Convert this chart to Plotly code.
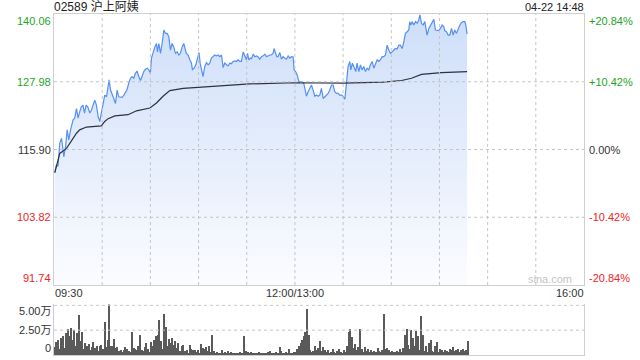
import plotly.graph_objects as go

# ---------------- data ----------------
title_text = "02589 沪上阿姨"
date_text = "04-22 14:48"

# minutes since 09:30 (trading minutes, lunch break removed: 150 = 12:00/13:00, 330 = 16:00)
price_minutes = [0.5, 1.5, 2.5, 3.6, 4.7, 5.3, 6.1, 7.2, 8.2, 9.2, 10.3, 11.9, 12.9, 14, 15, 16, 17, 18, 19, 20,
                 21, 22.3, 23.3, 24.3, 25.4, 26.4, 27.5, 28.5, 29.5, 30.6, 31.6, 32.7, 33.7, 34.3, 35.2, 36.2, 37.2,
                 38.3, 39.3, 40.3, 41.4, 42.4, 43.5, 44.5, 45.5, 46.6, 47.6, 48.6, 49.7, 50.7, 51.7, 52.8, 53.8,
                 54.8, 55.9, 56.9, 58, 59, 60, 60.7, 61.7, 62.8, 63.8, 64.4, 65.3, 66.3, 67.3, 68.4, 69.4, 70.4,
                 71.5, 72.5, 73.5, 74.6, 75.6, 76.7, 77.7, 78.7, 79.8, 80.8,
                 82.4, 83.5, 84.6, 85.6, 86.2, 87.2, 88.3, 89.3, 90.3, 91, 91.8, 92.8, 93.9, 94.9, 96, 97, 98, 99.1,
                 100.1, 101.2, 102.2, 103.2, 104.3, 105.3, 106.3, 107.4, 108.4, 109.4, 110.5, 111.5, 112.6, 113.6,
                 114.6, 115.7, 116.7, 117.8, 118.8, 119.8, 120.5, 121.3, 122.3, 123, 124, 125, 126.1, 127.1, 128.1,
                 129.2, 130.2, 131.3, 132.3, 133.3, 134.4, 135.4, 136.4, 137, 137.9, 138.7, 139.5, 140.6, 141.6,
                 142.6, 143.7, 144.7, 145.8, 146.8, 147.9, 148.9, 149.5, 150.4, 151.4, 152.5, 153.5, 154.6, 155.6,
                 156.6, 157.2, 158.2, 159.3, 160.3, 161.3, 162.4, 163.4, 164.4, 165.5, 166.5, 167.6,
                 168.6, 169.7, 170.7, 171.7, 172.8, 173.8, 174.8, 175.9, 176.9, 177.9, 179, 180, 181.1, 181.7,
                 182.3, 183.1, 184.2, 184.8, 185.8, 186.9, 187.9, 188.7, 189.8, 190.8, 191.8, 192.9, 193.9, 195,
                 196, 197, 198.1, 199.1, 200.1, 201.2, 202.2, 203.3, 204.3, 205.3, 206.4, 207.4, 208.5, 209.5,
                 210.5, 211.6, 212.6, 213.6, 214.7, 215.7, 216.8, 217.8, 218.8, 219.9, 220.9, 221.5, 222.1, 223,
                 224, 225.1, 226.1, 227.1, 227.8, 228.8, 229.8, 230.9, 231.5, 232.3, 233.4, 234.4, 235.4, 236.5,
                 237.5, 238.5, 239.6, 240.6, 241.6, 242.7, 243.3, 244.4, 245.4, 246.4, 247.5, 248.5, 249.5, 250.6,
                 251.6, 252.7, 253.7, 254.7, 255.8, 256.4, 257.2]
prices = [111.76, 113.14, 112.9, 117.0, 117.9, 115.8, 114.6, 116.4, 119.4, 117.6, 119.4, 121.2, 121.5, 123.2, 121.5,
          122.6, 123.5, 123.8, 122.4, 123.8, 123.5, 122.4, 122.9, 123.8, 124.7, 123.8, 121.75, 120.9, 122.4, 124.1,
          125.6, 125.3, 126.8, 128.3, 126.5, 125.9, 125.0, 124.1, 126.5, 125.3, 125.2, 125.2, 125.6, 126.0, 126.6,
          127.8, 128.6, 128.9, 128.6, 129.5, 129.9, 128.9, 128.2, 128.9, 129.8, 130.2, 130.4, 130.1, 129.5, 132.2,
          133.3, 134.2, 134.8, 133.3, 134.8, 133.05, 134.8, 137.2, 136.6, 136.6, 136.0, 133.6, 134.8, 134.2, 133.05,
          133.3, 132.75, 133.05, 134.2, 134.8,
          133.05, 132.75, 131.9, 131.3, 130.1, 130.4, 131.0, 131.9, 133.2, 131.3, 130.4, 128.9, 130.7, 131.4, 131.0,
          131.3, 132.2, 132.6, 132.75, 132.6, 132.75, 132.45, 132.75, 130.5, 131.3, 131.0, 130.8, 131.3, 131.2,
          131.6, 131.7, 131.6, 131.9, 131.6, 131.6, 133.3, 132.45, 131.9, 133.05, 131.9, 132.2, 132.1, 132.9,
          132.45, 132.6, 132.4, 132.0, 132.45, 132.6, 132.9, 132.45, 132.6, 132.75, 132.75, 133.05, 133.9, 133.05,
          132.45, 132.45, 133.2, 132.0, 132.45, 132.2, 132.0, 132.6, 132.2, 132.45, 132.4, 130.1, 129.8, 129.2,
          128.0, 128.0, 128.0, 127.6, 126.5, 125.4, 126.2, 126.8, 127.4, 126.5, 125.4, 125.6, 125.4, 125.6, 126.8,
          125.0,
          125.3, 125.6, 125.9, 126.5, 127.4, 127.4, 126.2, 125.9, 125.9, 125.6, 125.6, 125.4, 124.85, 126.5, 128.0,
          130.7, 131.6, 130.1, 131.3, 130.4, 129.8, 131.3, 129.8, 131.0, 130.1, 130.7, 129.8, 130.4, 130.1, 131.0,
          131.6, 130.4, 131.3, 131.9, 131.6, 131.9, 132.45, 132.45, 132.75, 134.5, 133.6, 133.05, 133.3, 133.6,
          133.9, 133.8, 134.5, 134.5, 133.9, 135.1, 136.6, 136.9, 137.2, 138.7, 138.1, 138.7, 138.1, 138.7, 138.4,
          139.0, 139.9, 138.4, 138.1, 138.7, 137.2, 136.3, 137.5, 138.1, 138.7, 139.1, 137.2, 137.1, 137.1, 137.5,
          138.1, 137.8, 137.1, 136.9, 136.3, 136.3, 137.5, 136.3, 137.2, 136.6, 137.5, 138.1, 138.5, 138.7, 138.7,
          138.1, 136.5]

avg_minutes = [0.5, 3.6, 7.8, 11, 14, 16, 20.2, 29.5, 31.6, 33.7, 37.9, 46.1, 51.4, 59.7, 63.8, 67.9, 72.1,
               80.4, 100, 121.9, 150, 180, 205, 216.4, 222.6, 228.8, 241.3, 257.2]
avg_prices = [111.76, 115.2, 116.1, 117.6, 118.8, 119.4, 119.9, 120.1, 120.9, 121.4, 121.9, 122.1, 122.8, 123.3,
              124.2, 125.4, 126.4, 126.8, 127.2, 127.6, 127.8, 127.75, 127.9, 128.2, 128.6, 129.3, 129.6, 129.8]

# volume per minute, in 万 shares (minute 0 .. 257)
volumes = [0.8, 1.3, 1.5, 0.6, 1.7, 1.9, 0.7, 2.2, 2.6, 1.9,
           2.7, 1.5, 2.5, 0.9, 2.2, 4.0, 1.4, 2.3, 0.6, 1.2,
           0.9, 1.1, 0.5, 0.8, 1.3, 0.7, 0.9, 0.4, 0.9, 1.0,
           0.6, 3.3, 0.8, 1.5, 5.1, 0.9, 0.9, 1.6, 0.7, 0.8,
           0.4, 0.5, 0.3, 0.5, 0.8, 0.6, 0.4, 0.3, 2.3, 0.7,
           0.6, 0.5, 0.9, 2.0, 0.5, 0.4, 0.8, 1.2, 0.6, 0.3,
           1.3, 0.9, 1.5, 1.9, 2.0, 3.5, 1.4, 0.6, 4.1, 2.8,
           0.9, 1.6, 1.2, 1.7, 1.0, 1.4, 0.7, 1.2, 0.4, 0.9,
           1.0, 0.4, 0.5, 0.2, 1.0, 0.6, 0.5, 0.5, 0.3, 0.5,
           0.2, 1.1, 0.7, 0.6, 0.8, 0.4, 0.9, 0.3, 2.0, 0.4,
           0.2, 0.3, 0.2, 0.2, 0.5, 0.2, 0.3, 0.1, 0.4, 0.2,
           0.3, 0.1, 0.2, 0.2, 0.1, 0.3, 0.2, 0.1, 1.9, 0.4,
           0.3, 0.1, 0.3, 0.2, 0.2, 0.1, 0.2, 0.3, 0.1, 0.2,
           0.1, 0.2, 0.1, 0.3, 0.4, 0.2, 0.1, 0.2, 0.3, 0.1,
           0.8, 0.4, 0.2, 0.1, 0.3, 0.2, 0.6, 0.1, 0.2, 0.3,
           0.3, 0.6, 0.9, 1.2, 1.5, 1.9, 2.3, 4.6, 2.0, 0.5,
           0.3, 0.4, 0.9, 0.5, 0.7, 1.4, 0.4, 0.8, 0.5, 0.3,
           0.5, 0.2, 0.3, 0.6, 0.3, 0.2, 0.4, 0.6, 0.3, 0.2,
           0.5, 0.3, 0.9, 2.3, 2.6, 1.8, 0.7, 1.1, 0.5, 0.8,
           2.6, 0.6, 0.3, 0.8, 0.4, 0.6, 0.3, 0.5, 0.3, 0.4,
           0.3, 0.7, 0.4, 0.3, 0.5, 4.1, 0.6, 0.7, 0.5, 0.3,
           0.4, 0.3, 0.3, 0.4, 0.3, 0.6, 0.3, 0.7, 2.0, 2.6,
           1.0, 0.6, 2.5, 1.7, 0.9, 2.4, 1.9, 0.5, 3.9, 2.0,
           0.4, 0.9, 0.3, 1.2, 1.5, 0.4, 0.3, 0.9, 1.3, 0.3,
           0.6, 0.5, 0.3, 0.5, 0.4, 0.3, 0.6, 0.5, 0.8, 0.4,
           0.5, 0.6, 0.3, 0.5, 0.6, 0.4, 0.5, 1.4]
volume_minutes = list(range(len(volumes)))

price_ticks = [140.06, 127.98, 115.90, 103.82, 91.74]
price_tick_labels = ["140.06", "127.98", "115.90", "103.82", "91.74"]
pct_tick_labels = ["+20.84%", "+10.42%", "0.00%", "-10.42%", "-20.84%"]
vol_ticks = [5.0, 2.5, 0]
vol_tick_labels = ["5.00万", "2.50万", "0"]
time_ticks = [0, 150, 330]
time_tick_labels = ["09:30", "12:00/13:00", "16:00"]
grid_minutes = [30, 60, 90, 120, 150, 180, 210, 240, 270, 300]

# ---------------- style ----------------
FONT = "Arial, 'Liberation Sans', 'Noto Sans CJK SC', sans-serif"
GREEN = "#1ea51e"
RED = "#f02424"
GRAY_TXT = "#333333"
BORDER = "#cfcfcf"
GRID = "#c4c4c4"
label_colors = [GREEN, GREEN, GRAY_TXT, RED, RED]
edge_shift = [-6.5, 0, 0, 0, 6.5]

fig = go.Figure()

fig.add_trace(go.Scatter(
    x=price_minutes, y=prices, mode="lines",
    line=dict(color="#5590f2", width=1.2),
    fill="tozeroy",
    fillgradient=dict(type="vertical", start=price_ticks[-1], stop=price_ticks[0],
                      colorscale=[[0, "rgb(251,252,255)"], [1, "rgb(206,222,249)"]]),
    xaxis="x", yaxis="y", hoverinfo="skip", showlegend=False))

fig.add_trace(go.Scatter(
    x=avg_minutes, y=avg_prices, mode="lines",
    line=dict(color="#2b3240", width=1.2),
    xaxis="x", yaxis="y", hoverinfo="skip", showlegend=False))

fig.add_trace(go.Bar(
    x=volume_minutes, y=volumes, width=0.62, offset=0.2,
    marker=dict(color="#5a5a5a", line=dict(width=0)),
    xaxis="x2", yaxis="y2", hoverinfo="skip", showlegend=False))

main_bottom = 0.2053
vol_top = 0.1481

fig.update_layout(
    width=640, height=360,
    margin=dict(l=54, r=56, t=14, b=5),
    paper_bgcolor="white", plot_bgcolor="rgba(0,0,0,0)",
    font=dict(family=FONT, size=11, color=GRAY_TXT),
    bargap=0,
    xaxis=dict(domain=[0, 1], range=[0, 330], showticklabels=False, ticks="", showgrid=False,
               showline=True, mirror=True, linecolor=BORDER, linewidth=1, zeroline=False),
    yaxis=dict(domain=[main_bottom, 1], range=[price_ticks[-1], price_ticks[0]],
               showticklabels=False, ticks="", showgrid=False,
               showline=True, mirror=True, linecolor=BORDER, linewidth=1, zeroline=False),
    xaxis2=dict(domain=[0, 1], range=[0, 330], anchor="y2", showticklabels=False, ticks="",
                showgrid=False, showline=True, mirror=False, linecolor=BORDER, linewidth=1, zeroline=False),
    yaxis2=dict(domain=[0, vol_top], range=[0, 5.08], anchor="x2",
                showticklabels=False, ticks="", showgrid=False,
                showline=True, mirror=True, linecolor=BORDER, linewidth=1, zeroline=False),
)

# dotted gridlines drawn above the filled area (as in the reference)
shapes = []
for m in grid_minutes:
    shapes.append(dict(type="line", xref="x", yref="y domain", x0=m, x1=m, y0=0, y1=1,
                       line=dict(color=GRID, width=1, dash="dot"), layer="above"))
for v in price_ticks[1:4]:
    shapes.append(dict(type="line", xref="x domain", yref="y", x0=0, x1=1, y0=v, y1=v,
                       line=dict(color=GRID, width=1, dash="dot"), layer="above"))
for v in vol_ticks[:2]:
    shapes.append(dict(type="line", xref="x2 domain", yref="y2", x0=0, x1=1, y0=v, y1=v,
                       line=dict(color=GRID, width=1, dash="dot"), layer="above"))

ann = []
for v, lab, pct, col, sh in zip(price_ticks, price_tick_labels, pct_tick_labels, label_colors, edge_shift):
    ann.append(dict(xref="x domain", yref="y", x=0, y=v, text=lab, showarrow=False,
                    xanchor="right", yanchor="middle", xshift=-1, yshift=sh,
                    font=dict(color=col, size=11, family=FONT)))
    ann.append(dict(xref="x domain", yref="y", x=1, y=v, text=pct, showarrow=False,
                    xanchor="left", yanchor="middle", xshift=3, yshift=sh,
                    font=dict(color=col, size=11, family=FONT)))

for v, lab, sh in zip(vol_ticks, vol_tick_labels, [-5.5, 0, 6.5]):
    ann.append(dict(xref="x2 domain", yref="y2", x=0, y=v, text=lab, showarrow=False,
                    xanchor="right", yanchor="middle", xshift=-1, yshift=sh,
                    font=dict(color=GRAY_TXT, size=11, family=FONT)))

for t, lab, anc in zip(time_ticks, time_tick_labels, ["left", "center", "right"]):
    ann.append(dict(xref="x", yref="y domain", x=t, y=0, text=lab, showarrow=False,
                    xanchor=anc, yanchor="middle", yshift=-8.5,
                    xshift=-1 if anc == "left" else (2 if anc == "right" else 0),
                    font=dict(color=GRAY_TXT, size=11, family=FONT)))

ann.append(dict(xref="x domain", yref="y domain", x=0, y=1, text=title_text, showarrow=False,
                xanchor="left", yanchor="middle", xshift=-2, yshift=7,
                font=dict(color="#222222", size=12, family=FONT)))
ann.append(dict(xref="x domain", yref="y domain", x=1, y=1, text=date_text, showarrow=False,
                xanchor="right", yanchor="middle", xshift=2, yshift=7,
                font=dict(color="#222222", size=11, family=FONT)))
ann.append(dict(xref="x domain", yref="y domain", x=1, y=0, text="sina.com", showarrow=False,
                xanchor="right", yanchor="middle", xshift=-10, yshift=6,
                font=dict(color="#c4c4c4", size=11, family=FONT)))

fig.update_layout(annotations=ann, shapes=shapes)

fig.write_html("out.html")
